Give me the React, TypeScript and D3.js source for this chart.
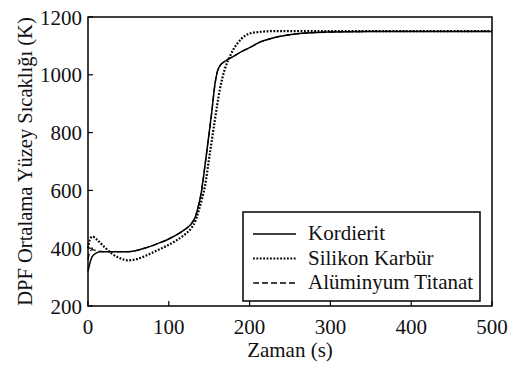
import React, { useEffect, useRef } from 'react';
import * as d3 from 'd3';

// time (s) and mean DPF surface temperature (K)
const kordieritT = [0, 2, 5, 10, 15, 30, 50, 70, 90, 100, 110, 120, 128, 133, 137, 140, 144.6, 148.8, 153, 157, 160, 163, 169, 180, 190, 200, 212, 230, 254, 280, 300, 350, 500];
const kordieritK = [320, 345, 370, 383, 388, 388, 388, 400, 420, 432, 447, 465, 485, 510, 550, 590, 682, 774, 867, 965, 1010, 1030, 1046, 1064, 1080, 1094, 1112, 1128, 1140, 1146, 1148, 1150, 1150];

const silikonT = [0, 3, 6, 10, 20, 30, 40, 50, 60, 70, 80, 90, 100, 110, 120, 128, 133, 137, 141, 144.6, 150.8, 157, 163, 169, 175.5, 180, 184, 190, 200, 215, 230, 500];
const silikonK = [400, 435, 440, 432, 405, 380, 365, 358, 362, 372, 385, 398, 412, 428, 448, 470, 495, 530, 570, 613, 728, 843, 947, 1017, 1063, 1088, 1105, 1125, 1143, 1149, 1151, 1151];

const titanatT = [0, 2, 5, 10, 15, 30, 50, 70, 90, 100, 110, 120, 128, 133, 137, 140, 144.6, 148.8, 153, 157, 160, 163, 169, 180, 190, 200, 212, 230, 254, 280, 300, 350, 500];
const titanatK = [360, 385, 395, 392, 389, 388, 388, 400, 420, 432, 447, 465, 485, 510, 550, 590, 682, 774, 867, 965, 1010, 1030, 1046, 1064, 1080, 1094, 1112, 1128, 1140, 1146, 1148, 1150, 1150];

const xTicks = [0, 100, 200, 300, 400, 500];
const yTicks = [200, 400, 600, 800, 1000, 1200];

const seriesNames = ['Kordierit', 'Silikon Karbür', 'Alüminyum Titanat'];
const xTitle = 'Zaman (s)';
const yTitle = 'DPF Ortalama Yüzey Sıcaklığı (K)';

const FONT = "'Liberation Serif', serif";

export default function App() {
  const svgRef = useRef<SVGSVGElement>(null);

  useEffect(() => {
    if (!svgRef.current) return;
    const svg = d3.select(svgRef.current);
    svg.selectAll('*').remove();

    const left = 88, right = 492, top = 17, bottom = 306;

    const x = d3.scaleLinear().domain([0, 500]).range([left, right]);
    const y = d3.scaleLinear().domain([200, 1200]).range([bottom, top]);

    const g = svg.append('g').style('font-family', FONT);

    // series
    const styles = [
      { t: kordieritT, k: kordieritK, width: 1.5, dash: null },
      { t: silikonT, k: silikonK, width: 2.2, dash: '1.8,1.6' },
      { t: titanatT, k: titanatK, width: 1.3, dash: '6,3' },
    ];

    const line = d3
      .line<[number, number]>()
      .x(d => x(d[0]))
      .y(d => y(d[1]))
      .curve(d3.curveMonotoneX);

    styles.forEach(s => {
      const pts = s.t.map((t, i) => [t, s.k[i]] as [number, number]);
      const p = g
        .append('path')
        .datum(pts)
        .attr('fill', 'none')
        .attr('stroke', '#000')
        .attr('stroke-width', s.width)
        .attr('d', line);
      if (s.dash) p.attr('stroke-dasharray', s.dash);
    });

    // frame
    g.append('rect')
      .attr('x', left)
      .attr('y', top)
      .attr('width', right - left)
      .attr('height', bottom - top)
      .attr('fill', 'none')
      .attr('stroke', '#000')
      .attr('stroke-width', 1.5);

    // ticks (inside)
    xTicks.forEach(t => {
      g.append('line')
        .attr('x1', x(t)).attr('x2', x(t))
        .attr('y1', bottom).attr('y2', bottom - 5)
        .attr('stroke', '#000').attr('stroke-width', 1.2);
      g.append('text')
        .attr('x', x(t))
        .attr('y', bottom + 28)
        .attr('text-anchor', 'middle')
        .style('font-size', '21px')
        .attr('fill', '#111')
        .text(t);
    });

    yTicks.forEach(v => {
      g.append('line')
        .attr('x1', left).attr('x2', left + 5)
        .attr('y1', y(v)).attr('y2', y(v))
        .attr('stroke', '#000').attr('stroke-width', 1.2);
      g.append('text')
        .attr('x', left - 6)
        .attr('y', y(v))
        .attr('dy', '0.36em')
        .attr('text-anchor', 'end')
        .style('font-size', '21px')
        .attr('fill', '#111')
        .text(v);
    });

    // axis titles
    g.append('text')
      .attr('x', (left + right) / 2)
      .attr('y', 357)
      .attr('text-anchor', 'middle')
      .style('font-size', '21px')
      .attr('fill', '#111')
      .text(xTitle);

    g.append('text')
      .attr('transform', `translate(32,${(top + bottom) / 2}) rotate(-90)`)
      .attr('text-anchor', 'middle')
      .style('font-size', '20.5px')
      .attr('fill', '#111')
      .text(yTitle);

    // legend
    const lg = g.append('g');
    lg.append('rect')
      .attr('x', 243)
      .attr('y', 212)
      .attr('width', 237)
      .attr('height', 89)
      .attr('fill', '#fff')
      .attr('stroke', '#000')
      .attr('stroke-width', 1.5);

    seriesNames.forEach((name, i) => {
      const ly = 234 + i * 24.5;
      const s = styles[i];
      const l = lg.append('line')
        .attr('x1', 253).attr('x2', 296)
        .attr('y1', ly).attr('y2', ly)
        .attr('stroke', '#000')
        .attr('stroke-width', s.width);
      if (s.dash) l.attr('stroke-dasharray', s.dash);
      lg.append('text')
        .attr('x', 308)
        .attr('y', ly + 6)
        .style('font-size', '21px')
        .attr('fill', '#111')
        .text(name);
    });
  }, []);

  return (
    <div style={{ position: 'absolute', left: 0, top: 0, width: 513, height: 365, background: '#fff' }}>
      <svg ref={svgRef} width={513} height={365} style={{ display: 'block' }} />
    </div>
  );
}
